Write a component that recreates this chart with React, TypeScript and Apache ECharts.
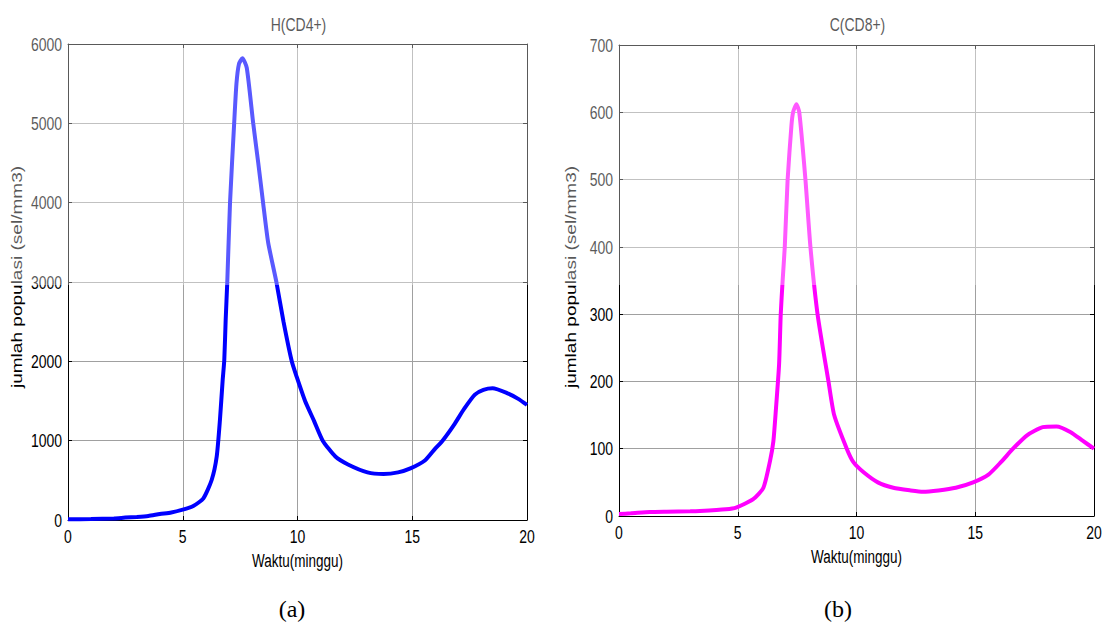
import React, { useEffect, useRef } from "react";
import * as echarts from "echarts";

// H(CD4+) curve: time (weeks) and population (cells/mm3)
const hTime = [0, 1, 2, 2.5, 3, 3.5, 4, 4.5, 5, 5.46, 5.9, 6.26, 6.48, 6.62, 6.74, 6.81, 6.87, 6.94, 7.06, 7.24, 7.34, 7.45, 7.6, 7.79, 8.07, 8.29, 8.5, 8.72, 9.08, 9.39, 9.75, 9.97, 10.33, 10.72, 11.1, 11.65, 12.2, 13.05, 13.75, 14.38, 14.92, 15.55, 16.0, 16.32, 16.82, 17.26, 17.73, 18.1, 18.5, 19.13, 19.6, 20];
const hValue = [10, 12, 20, 30, 38, 50, 75, 95, 130, 176, 273, 504, 800, 1260, 1765, 2017, 2520, 3000, 4000, 5000, 5500, 5750, 5820, 5700, 5000, 4500, 4000, 3500, 3000, 2500, 2000, 1800, 1500, 1250, 1000, 800, 700, 600, 580, 600, 650, 750, 900, 1000, 1200, 1400, 1580, 1640, 1660, 1600, 1530, 1450];

// C(CD8+) curve
const cTime = [0, 0.5, 1.3, 2, 3, 3.41, 4.5, 4.93, 5.65, 6.08, 6.36, 6.5, 6.61, 6.74, 6.81, 6.89, 6.98, 7.1, 7.26, 7.33, 7.47, 7.59, 7.85, 8.06, 8.36, 8.82, 9.06, 9.59, 9.87, 10.3, 10.9, 11.55, 12.28, 12.8, 13.45, 14.18, 14.91, 15.57, 16.08, 16.59, 17.18, 17.84, 18.42, 19.0, 19.52, 20];
const cValue = [3, 4, 6, 6.5, 7, 7.5, 10, 12.5, 25, 42, 82, 111, 160, 225, 300, 350, 400, 500, 580, 600, 612, 600, 500, 400, 300, 200, 150, 100, 80, 65, 50, 42, 38, 36, 38, 42, 50, 62, 80, 100, 120, 132, 133, 125, 112, 100];

const titles = ["H(CD4+)", "C(CD8+)"];
const panelLabels = ["(a)", "(b)"];
const xTitle = "Waktu(minggu)";
const yTitle = "jumlah populasi (sel/mm3)";
const xTicks = [0, 5, 10, 15, 20];
const hTicks = [0, 1000, 2000, 3000, 4000, 5000, 6000];
const cTicks = [0, 100, 200, 300, 400, 500, 600, 700];

const FONT = "'Liberation Sans', Arial, sans-serif";
const SERIF = "'Liberation Serif', 'Times New Roman', serif";
const STRETCH = 1.32;

function zip(t: number[], v: number[]) {
  return t.map((x, i) => [x, v[i]]);
}

export default function App() {
  const ref = useRef<HTMLDivElement>(null);
  useEffect(() => {
    document.body.style.margin = "0";
    if (!ref.current) return;
    const chart = echarts.init(ref.current, null, { renderer: "svg" });
    const grids = [
      { left: 68, top: 44, width: 459, height: 476 },
      { left: 619, top: 45, width: 475, height: 471 },
    ];
    const yTickSets = [hTicks, cTicks];
    const mkX = (gi: number, mirror: boolean) => ({
      type: "value",
      gridIndex: gi,
      min: xTicks[0],
      max: xTicks[xTicks.length - 1],
      interval: xTicks[1] - xTicks[0],
      position: mirror ? "top" : "bottom",
      axisLine: { show: true, onZero: false, lineStyle: { color: "#000", width: 1 } },
      axisTick: { show: true, inside: true, length: 4, lineStyle: { color: "#000" } },
      axisLabel: { show: false },
      splitLine: mirror ? { show: false } : { show: true, lineStyle: { color: "#a0a0a0", width: 1 } },
    });
    const mkY = (gi: number, mirror: boolean) => {
      const t = yTickSets[gi];
      return {
        type: "value",
        gridIndex: gi,
        min: t[0],
        max: t[t.length - 1],
        interval: t[1] - t[0],
        position: mirror ? "right" : "left",
        axisLine: { show: true, onZero: false, lineStyle: { color: "#000", width: 1 } },
        axisTick: { show: true, inside: true, length: 4, lineStyle: { color: "#000" } },
        axisLabel: { show: false },
        splitLine: mirror ? { show: false } : { show: true, lineStyle: { color: "#a0a0a0", width: 1 } },
      };
    };
    chart.setOption({
      animation: false,
      backgroundColor: "#fff",
      grid: grids.map((g) => ({ ...g, show: false, containLabel: false })),
      xAxis: [mkX(0, false), mkX(0, true), mkX(1, false), mkX(1, true)],
      yAxis: [mkY(0, false), mkY(0, true), mkY(1, false), mkY(1, true)],
      series: [
        {
          type: "line",
          xAxisIndex: 0,
          yAxisIndex: 0,
          data: zip(hTime, hValue),
          showSymbol: false,
          smooth: 0.2,
          lineStyle: { color: "#0000ff", width: 4 },
          clip: true,
        },
        {
          type: "line",
          xAxisIndex: 2,
          yAxisIndex: 2,
          data: zip(cTime, cValue),
          showSymbol: false,
          smooth: 0.2,
          lineStyle: { color: "#ff00ff", width: 4 },
          clip: true,
        },
      ],
    });

    const texts: any[] = [];
    const txt = (x: number, y: number, text: string, align: string, size: number, extra: any = {}) => ({
      type: "text",
      x,
      y,
      scaleY: STRETCH,
      style: { text, fill: "#000", fontSize: size, fontFamily: FONT, align, verticalAlign: "middle" },
      ...extra,
    });
    grids.forEach((g, gi) => {
      const ticks = yTickSets[gi];
      const y0 = ticks[0];
      const axisY = chart.convertToPixel({ gridIndex: gi }, [xTicks[0], y0])[1];
      const axisX = chart.convertToPixel({ gridIndex: gi }, [xTicks[0], y0])[0];
      xTicks.forEach((v) => {
        const p = chart.convertToPixel({ gridIndex: gi }, [v, y0]);
        texts.push(txt(p[0], axisY + 16, String(v), "center", 14));
      });
      ticks.forEach((v) => {
        const p = chart.convertToPixel({ gridIndex: gi }, [xTicks[0], v]);
        texts.push(txt(axisX - 6, p[1], String(v), "right", 14));
      });
      const cx = g.left + g.width / 2;
      texts.push(txt(cx, axisY + 41, xTitle, "center", 13.5));
      texts.push(txt(cx + 1, 24, titles[gi], "center", 14));
      texts.push({
        type: "text",
        x: gi === 0 ? 17.5 : 571,
        y: 277,
        rotation: Math.PI / 2,
        scaleX: 1.36,
        style: { text: yTitle, fill: "#000", fontSize: 14, fontFamily: FONT, align: "center", verticalAlign: "middle" },
      });
      texts.push({
        type: "text",
        x: gi === 0 ? 292 : 838,
        y: 609,
        style: { text: panelLabels[gi], fill: "#000", fontSize: 24, fontFamily: SERIF, align: "center", verticalAlign: "middle" },
      });
    });
    texts.push({ type: "rect", z: 100, silent: true, shape: { x: 0, y: 0, width: 1102, height: 285 }, style: { fill: "rgba(255,255,255,0.35)" } });
    chart.setOption({ graphic: texts });
    return () => chart.dispose();
  }, []);
  return <div ref={ref} style={{ width: 1102, height: 628 }} />;
}
